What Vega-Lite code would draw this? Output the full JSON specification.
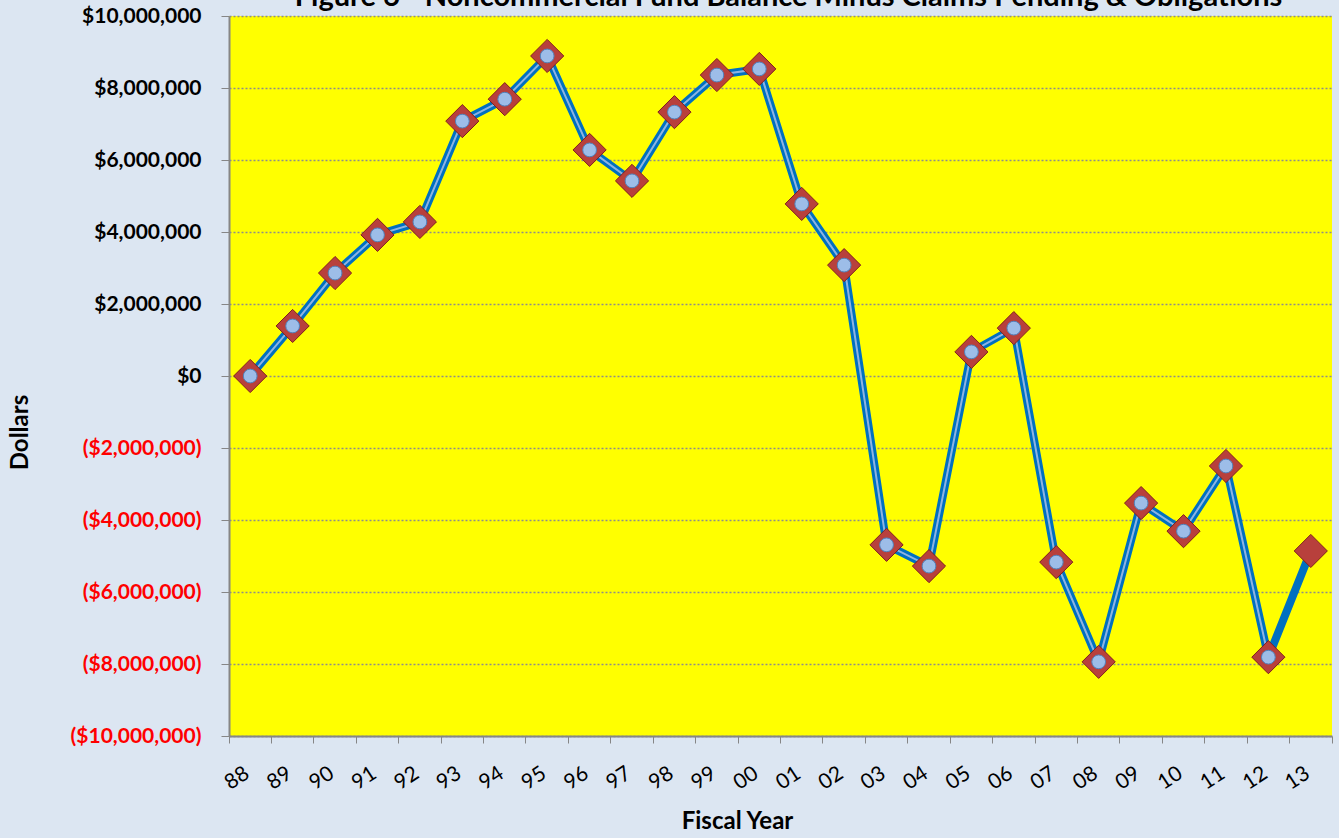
{
  "$schema": "https://vega.github.io/schema/vega-lite/v6.json",
  "autosize": "none",
  "width": 1103,
  "height": 720,
  "padding": {"left": 229, "top": 16, "right": 7, "bottom": 102},
  "background": "#dce6f2",
  "title": {
    "text": "Figure 6 - Noncommercial Fund Balance Minus Claims Pending & Obligations",
    "font": "Lato",
    "fontSize": 29,
    "fontWeight": "bold",
    "color": "#000000",
    "anchor": "middle",
    "baseline": "alphabetic",
    "offset": 1,
    "dy": 31,
    "dx": 8
  },
  "config": {
    "view": {"fill": "#ffff00", "stroke": null},
    "font": "Lato"
  },
  "data": {
    "values": [
      {"year": "88", "value": 0},
      {"year": "89", "value": 1390000},
      {"year": "90", "value": 2860000},
      {"year": "91", "value": 3920000},
      {"year": "92", "value": 4280000},
      {"year": "93", "value": 7080000},
      {"year": "94", "value": 7690000},
      {"year": "95", "value": 8890000},
      {"year": "96", "value": 6280000},
      {"year": "97", "value": 5420000},
      {"year": "98", "value": 7330000},
      {"year": "99", "value": 8360000},
      {"year": "00", "value": 8530000},
      {"year": "01", "value": 4780000},
      {"year": "02", "value": 3080000},
      {"year": "03", "value": -4690000},
      {"year": "04", "value": -5280000},
      {"year": "05", "value": 670000},
      {"year": "06", "value": 1330000},
      {"year": "07", "value": -5170000},
      {"year": "08", "value": -7940000},
      {"year": "09", "value": -3530000},
      {"year": "10", "value": -4310000},
      {"year": "11", "value": -2500000},
      {"year": "12", "value": -7810000},
      {"year": "13", "value": -4860000}
    ]
  },
  "encoding": {
    "x": {
      "field": "year",
      "type": "ordinal",
      "sort": null,
      "bandPosition": 0.5,
      "scale": {"type": "band", "paddingInner": 0, "paddingOuter": 0},
      "axis": {
        "bandPosition": 1,
        "tickExtra": true,
        "tickSize": 7,
        "tickColor": "#868686",
        "tickWidth": 1,
        "domainColor": "#868686",
        "domainWidth": 2,
        "grid": false,
        "labelAngle": -33,
        "labelAlign": "center",
        "labelBaseline": "middle",
        "labelOffset": -13,
        "labelPadding": 35,
        "labelFont": "Lato",
        "labelFontSize": 21,
        "labelColor": "#000000",
        "title": "Fiscal Year",
        "titleFont": "Lato",
        "titleFontSize": 24,
        "titleFontWeight": "bold",
        "titleColor": "#000000",
        "titleX": 508,
        "titleY": 92,
        "titleBaseline": "alphabetic",
        "titleAnchor": null,
        "titleAlign": "center"
      }
    },
    "y": {
      "field": "value",
      "type": "quantitative",
      "scale": {"domain": [-10000000, 10000000], "nice": false, "zero": false},
      "axis": {
        "values": [-10000000, -8000000, -6000000, -4000000, -2000000, 0, 2000000, 4000000, 6000000, 8000000, 10000000],
        "labelExpr": "datum.value < 0 ? '($' + format(-datum.value, ',') + ')' : '$' + format(datum.value, ',')",
        "labelColor": {"condition": {"test": "datum.value < 0", "value": "#ff0000"}, "value": "#000000"},
        "labelFont": "Lato",
        "labelFontSize": 21,
        "labelFontWeight": "bold",
        "labelPadding": 20,
        "tickSize": 8,
        "tickColor": "#868686",
        "domainColor": "#868686",
        "domainWidth": 2,
        "grid": true,
        "gridColor": "#8c8c8c",
        "gridDash": [2, 2],
        "gridWidth": 1.5,
        "title": "Dollars",
        "titleFont": "Lato",
        "titleFontSize": 24,
        "titleFontWeight": "bold",
        "titleColor": "#000000",
        "titleAngle": -90,
        "titleX": -209,
        "titleY": 416,
        "titleBaseline": "middle",
        "titleAlign": "center",
        "titleAnchor": null
      }
    }
  },
  "layer": [
    {
      "mark": {"type": "line", "color": "#0070c0", "strokeWidth": 8, "strokeJoin": "round"}
    },
    {
      "transform": [{"filter": "datum.year != '13'"}],
      "mark": {"type": "line", "color": "#8db4e2", "strokeWidth": 2}
    },
    {
      "mark": {"type": "point", "shape": "diamond", "size": 1100, "filled": true, "fill": "#b8403c", "stroke": "#7f1f1c", "strokeWidth": 1, "opacity": 1}
    },
    {
      "transform": [{"filter": "datum.year != '13'"}],
      "mark": {"type": "circle", "size": 190, "fill": "#9dbde8", "stroke": "#4f81bd", "strokeWidth": 1, "opacity": 1}
    }
  ]
}
